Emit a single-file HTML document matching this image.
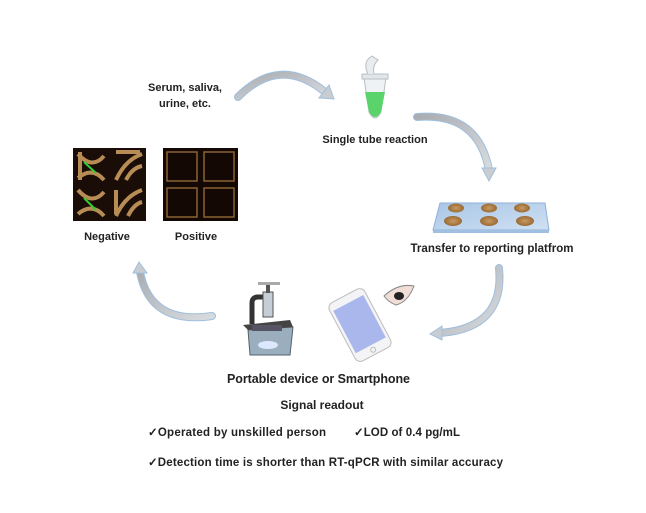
<!DOCTYPE html>
<html><head><meta charset="utf-8"><style>
html,body{margin:0;padding:0;background:#fff;}
svg{display:block;}
text{font-family:"Liberation Sans",sans-serif;font-weight:bold;fill:#222;}
</style></head><body>
<svg width="646" height="513" viewBox="0 0 646 513" xmlns="http://www.w3.org/2000/svg">
<defs>
<linearGradient id="ag" x1="0" y1="0" x2="1" y2="1"><stop offset="0" stop-color="#a9adb2"/><stop offset="1" stop-color="#d8dbde"/></linearGradient>
<radialGradient id="gold" cx="0.5" cy="0.5" r="0.5"><stop offset="0" stop-color="#c89a60"/><stop offset="1" stop-color="#9a6a35"/></radialGradient>
<linearGradient id="glass" x1="0" y1="0" x2="1" y2="1"><stop offset="0" stop-color="#a9c6e6"/><stop offset="1" stop-color="#cfe0f2"/></linearGradient>
</defs>
<g fill="none" stroke-linecap="round">
<path d="M238,97 Q280,55 325,92" stroke="#9fbfdf" stroke-width="8"/>
<path d="M238,97 Q280,55 325,92" stroke="url(#ag)" stroke-width="6"/>
<path d="M417,117 Q478,112 489,170" stroke="#9fbfdf" stroke-width="8"/>
<path d="M417,117 Q478,112 489,170" stroke="url(#ag)" stroke-width="6"/>
<path d="M499,268 Q505,328 440,333" stroke="#9fbfdf" stroke-width="8"/>
<path d="M499,268 Q505,328 440,333" stroke="url(#ag)" stroke-width="6"/>
<path d="M212,316 Q150,325 140,272" stroke="#9fbfdf" stroke-width="8"/>
<path d="M212,316 Q150,325 140,272" stroke="url(#ag)" stroke-width="6"/>
</g>
<g fill="#c9ccd0" stroke="#9fbfdf" stroke-width="1">
<polygon points="319,98 334,99 329,85"/>
<polygon points="482,168 496,168 489,181"/>
<polygon points="442,326 442,340 430,334"/>
<polygon points="133,273 147,273 139,262"/>
</g>
<text x="185" y="91" font-size="11" text-anchor="middle">Serum, saliva,</text>
<text x="185" y="107" font-size="11" text-anchor="middle">urine, etc.</text>
<text x="375" y="143" font-size="11" text-anchor="middle">Single tube reaction</text>
<text x="492" y="252" font-size="11.5" text-anchor="middle" textLength="163">Transfer to reporting platfrom</text>
<text x="107" y="240" font-size="11" text-anchor="middle">Negative</text>
<text x="196" y="240" font-size="11" text-anchor="middle">Positive</text>
<text x="227" y="383" font-size="12.5" textLength="183">Portable device  or  Smartphone</text>
<text x="322" y="409" font-size="12" text-anchor="middle">Signal readout</text>
<text x="148" y="436" font-size="11.5" textLength="178">✓Operated by unskilled person</text>
<text x="354" y="436" font-size="11.5" textLength="106">✓LOD of 0.4 pg/mL</text>
<text x="148" y="466" font-size="11.5" textLength="355">✓Detection time is shorter than RT-qPCR with similar accuracy</text>
<!-- negative image -->
<rect x="73" y="148" width="73" height="73" fill="#1a0d08"/>
<g fill="none" stroke="#c99a5e" stroke-width="4" opacity="0.9">
<path d="M78,154 Q92,170 104,156"/><path d="M78,178 Q92,166 104,180"/><path d="M80,152 L80,180"/>
<path d="M116,180 Q125,160 142,154"/><path d="M126,180 Q132,168 142,166"/><path d="M116,152 L140,152"/>
<path d="M78,190 Q92,206 104,192"/><path d="M78,214 Q92,202 104,216"/>
<path d="M116,216 Q125,196 142,190"/><path d="M128,216 Q134,204 142,202"/><path d="M116,190 L116,214"/>
</g>
<g stroke="#3c3" stroke-width="2"><line x1="84" y1="162" x2="96" y2="173"/><line x1="84" y1="198" x2="96" y2="210"/></g>
<rect x="107" y="150" width="5" height="70" fill="#1a0d08"/><rect x="75" y="183" width="70" height="4" fill="#1a0d08"/>
<rect x="163" y="148" width="75" height="73" fill="#140804"/>
<g fill="none" stroke="#8a6232" stroke-width="1.5">
<rect x="167" y="152" width="30" height="29"/><rect x="204" y="152" width="30" height="29"/>
<rect x="167" y="188" width="30" height="29"/><rect x="204" y="188" width="30" height="29"/>
</g>
<path d="M364,78 L386,78 L381,112 Q375,124 369,112Z" fill="#eef2f4" stroke="#b8bfc4"/>
<path d="M365,92 L385,92 L381,112 Q375,122 369,112Z" fill="#5ad46a"/>
<rect x="362" y="74" width="26" height="5" fill="#e2e6ea" stroke="#b8bfc4"/>
<path d="M368,74 Q362,62 372,56 L378,60 Q372,66 374,74" fill="#e8ecef" stroke="#b8bfc4"/>
<polygon points="440,203 545,203 549,230 433,230" fill="url(#glass)" stroke="#8fb2d8"/>
<rect x="433" y="230" width="116" height="3" fill="#9fc0e2"/>
<g fill="url(#gold)">
<ellipse cx="456" cy="208" rx="8" ry="4.5"/><ellipse cx="489" cy="208" rx="8" ry="4.5"/><ellipse cx="522" cy="208" rx="8" ry="4.5"/>
<ellipse cx="453" cy="221" rx="9" ry="5"/><ellipse cx="489" cy="221" rx="9" ry="5"/><ellipse cx="525" cy="221" rx="9" ry="5"/>
</g>
<polygon points="248,330 293,327 290,355 250,355" fill="#9aaebe" stroke="#55606a"/>
<polygon points="243,325 290,320 293,327 248,330" fill="#444"/>
<rect x="252" y="325" width="30" height="6" fill="#556"/>
<ellipse cx="268" cy="345" rx="10" ry="4" fill="#dde8ff"/>
<path d="M252,324 L252,303 Q252,297 258,297 L264,297" fill="none" stroke="#333" stroke-width="5"/>
<rect x="263" y="292" width="10" height="25" fill="#c5ced6" stroke="#555"/>
<rect x="266" y="285" width="4" height="8" fill="#555"/>
<rect x="258" y="282" width="22" height="3" fill="#aaa"/>
<g transform="rotate(-28 360 325)">
<rect x="340" y="292" width="40" height="66" rx="6" fill="#f4f4f6" stroke="#bbb"/>
<rect x="343" y="300" width="34" height="48" fill="#a9b7ec"/>
<circle cx="360" cy="353" r="2.5" fill="none" stroke="#bbb"/>
</g>
<path d="M384,296 Q398,283 414,286 Q408,302 396,305 Q388,302 384,296Z" fill="#f0ddd6" stroke="#888"/>
<ellipse cx="399" cy="296" rx="5" ry="4" fill="#222"/>
</svg>
</body></html>
